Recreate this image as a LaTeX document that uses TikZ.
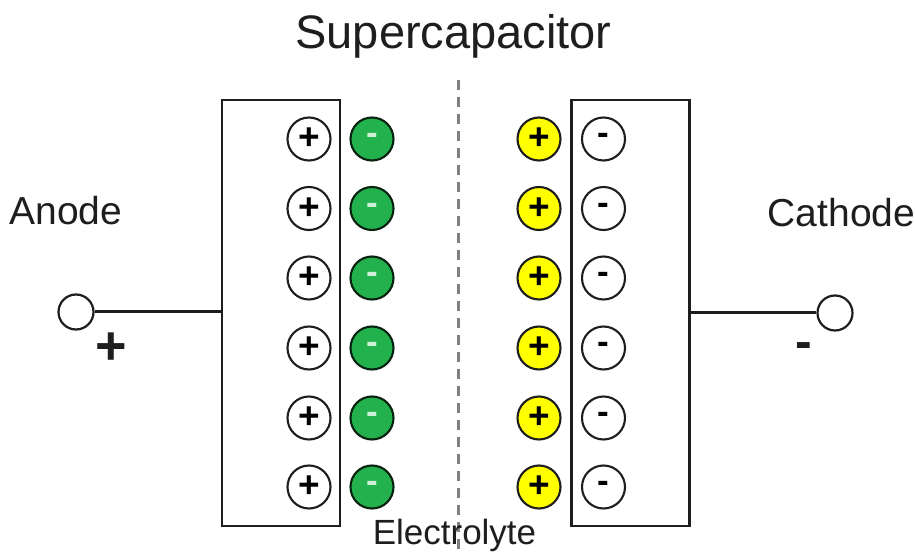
\documentclass[tikz,border=0pt]{standalone}
\usepackage{fontspec}
\setmainfont{Liberation Sans}
\definecolor{iongreen}{RGB}{34,177,76}
\definecolor{ionyellow}{RGB}{255,255,0}
\definecolor{pale}{RGB}{205,240,215}
\definecolor{ink}{RGB}{30,30,30}
\begin{document}
\begin{tikzpicture}[x=1pt,y=-1pt,
  electrode/.style={draw=ink, line width=2.4pt, minimum width=118pt, minimum height=426pt, inner sep=0pt},
  ion/.style={circle, draw=ink, line width=2.1pt, minimum size=43pt, inner sep=0pt},
  plusion/.style={ion, font=\bfseries\fontsize{37}{37}\selectfont},
  minusion/.style={ion, font=\bfseries\fontsize{35}{35}\selectfont},
  greenion/.style={minusion, fill=iongreen, draw=black!80!iongreen, text=pale},
  yellowion/.style={plusion, fill=ionyellow},
  terminal/.style={circle, draw=ink, line width=2.2pt, minimum size=35pt, inner sep=0pt},
  wire/.style={draw=ink, line width=3pt},
  label/.style={text=ink, inner sep=0pt, anchor=base}
]
\useasboundingbox (0,0) rectangle (916,553);
\fill[white] (0,0) rectangle (916,553);

% separator
\coordinate (septop) at (458,80);
\coordinate (sepbot) at (458,553);
\draw[draw=black!50, line width=3pt, dash pattern=on 10pt off 7pt] (septop) -- (sepbot);

% electrodes
\node[electrode] (lbox) at (281,313) {};
\node[electrode] (rbox) at (630.5,313) {};

% ions
\foreach \i/\y in {1/139,2/208.5,3/278,4/348,5/418,6/487}{
  \node[plusion]   (lp\i) at (309,\y) {+};
  \node[greenion]  (lg\i) at (372,\y) {-};
  \node[yellowion] (ry\i) at (539,\y) {+};
  \node[minusion]  (rm\i) at (603.5,\y) {-};
}

% terminals
\node[terminal] (ta) at (76,312) {};
\node[terminal] (tc) at (835,313) {};
\draw[wire] (ta.east) -- (ta.east -| lbox.west);
\draw[wire] (rbox.east |- tc.west) -- (tc.west);

% labels
\node[label, font=\fontsize{47}{47}\selectfont] (title) at (453.5,49) {Supercapacitor};
\node[label, font=\fontsize{39}{39}\selectfont] (anode) at (66,225) {Anode};
\node[label, font=\fontsize{39}{39}\selectfont] (cathode) at (841.5,227) {Cathode};
\node[label, font=\fontsize{35}{35}\selectfont] (electrolyte) at (454.5,544) {Electrolyte};
\node[text=ink, inner sep=0pt, font=\bfseries\fontsize{54}{54}\selectfont] (pos) at (111,349) {+};
\node[text=ink, inner sep=0pt, font=\bfseries\fontsize{50}{50}\selectfont] (neg) at (804,351) {-};
\end{tikzpicture}
\end{document}
